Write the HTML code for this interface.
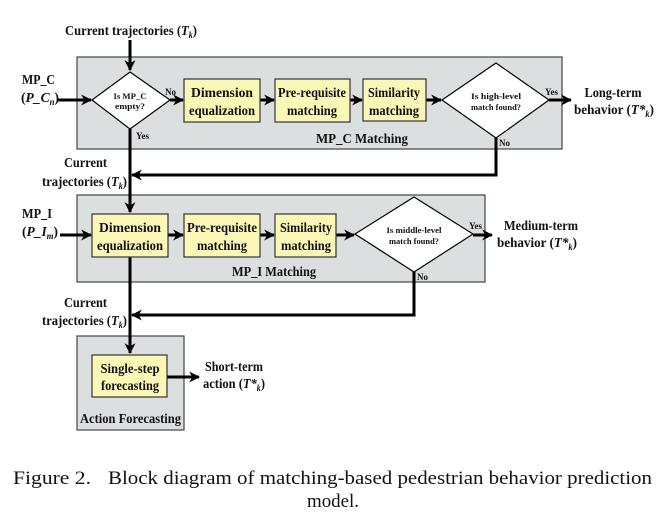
<!DOCTYPE html>
<html><head><meta charset="utf-8"><style>
html,body{margin:0;padding:0;background:#fff;}
svg{display:block;}
svg text{font-family:"Liberation Serif","Times New Roman",Times,serif;font-weight:bold;fill:#111;}
svg text.c{font-weight:normal;}
</style></head><body>
<svg width="667" height="523" viewBox="0 0 667 523" xmlns="http://www.w3.org/2000/svg" font-family="Liberation Serif, Times New Roman, serif">
<defs>
<marker id="b" viewBox="0 0 10 10" refX="9" refY="5" markerWidth="11" markerHeight="11" markerUnits="userSpaceOnUse" orient="auto">
<path d="M0,0 L10,5 L0,10 L3,5 z" fill="#000"/>
</marker>
</defs>
<rect x="77" y="57" width="485" height="92" fill="#dcdfe0" stroke="#444" stroke-width="1.2"/>
<rect x="77" y="195" width="408" height="87" fill="#dcdfe0" stroke="#444" stroke-width="1.2"/>
<rect x="77" y="336" width="107" height="94" fill="#dcdfe0" stroke="#444" stroke-width="1.2"/>

<g stroke="#000" stroke-width="3" fill="none">
<line x1="130" y1="40" x2="130" y2="70" marker-end="url(#b)"/>
<line x1="58" y1="100" x2="91" y2="100" marker-end="url(#b)"/>
<line x1="170" y1="100" x2="183" y2="100" marker-end="url(#b)"/>
<line x1="260" y1="100" x2="274" y2="100" marker-end="url(#b)"/>
<line x1="350" y1="100" x2="362" y2="100" marker-end="url(#b)"/>
<line x1="426" y1="100" x2="441" y2="100" marker-end="url(#b)"/>
<line x1="549" y1="100" x2="571" y2="100" marker-end="url(#b)"/>
<polyline points="496,138 496,175 132,175" marker-end="url(#b)"/>
<line x1="130" y1="129" x2="130" y2="212" marker-end="url(#b)"/>
<line x1="60" y1="235" x2="91" y2="235" marker-end="url(#b)"/>
<line x1="168" y1="235" x2="183" y2="235" marker-end="url(#b)"/>
<line x1="260" y1="235" x2="274" y2="235" marker-end="url(#b)"/>
<line x1="336" y1="235" x2="354" y2="235" marker-end="url(#b)"/>
<line x1="473" y1="235" x2="492" y2="235" marker-end="url(#b)"/>
<polyline points="414,272 414,315 132,315" marker-end="url(#b)"/>
<line x1="130" y1="257" x2="130" y2="353" marker-end="url(#b)"/>
<line x1="167" y1="377" x2="199" y2="377" marker-end="url(#b)"/>
</g>

<polygon points="130,72 170,100 130,129 92,100" fill="#fff" stroke="#000" stroke-width="1.2"/>
<polygon points="496,63 549,100 496,138 442,100" fill="#fff" stroke="#000" stroke-width="1.2"/>
<polygon points="414,197 473,234 414,272 355,234" fill="#fff" stroke="#000" stroke-width="1.2"/>

<g fill="#fbf7b6" stroke="#333" stroke-width="1.2">
<rect x="184" y="79" width="76" height="43"/>
<rect x="275" y="79" width="75" height="43"/>
<rect x="363" y="79" width="63" height="42"/>
<rect x="92" y="214" width="76" height="43"/>
<rect x="184" y="214" width="76" height="43"/>
<rect x="275" y="214" width="61" height="43"/>
<rect x="92" y="355" width="75" height="42"/>
</g>

<g font-size="14">
<text x="65" y="35" textLength="132" lengthAdjust="spacingAndGlyphs">Current trajectories (<tspan font-style="italic">T</tspan><tspan font-style="italic" font-size="9" dy="3">k</tspan><tspan dy="-3">)</tspan></text>
<text x="22" y="84" textLength="33" lengthAdjust="spacingAndGlyphs">MP_C</text>
<text x="21" y="102" font-style="italic" textLength="38" lengthAdjust="spacingAndGlyphs"><tspan font-style="normal">(</tspan>P_C<tspan font-size="9" dy="3">n</tspan><tspan dy="-3" font-style="normal">)</tspan></text>

<text x="222" y="97" text-anchor="middle" textLength="62" lengthAdjust="spacingAndGlyphs">Dimension</text>
<text x="222" y="115" text-anchor="middle" textLength="66" lengthAdjust="spacingAndGlyphs">equalization</text>
<text x="312" y="97" text-anchor="middle" textLength="68" lengthAdjust="spacingAndGlyphs">Pre-requisite</text>
<text x="312" y="115" text-anchor="middle" textLength="50" lengthAdjust="spacingAndGlyphs">matching</text>
<text x="394" y="97" text-anchor="middle" textLength="52" lengthAdjust="spacingAndGlyphs">Similarity</text>
<text x="394" y="115" text-anchor="middle" textLength="50" lengthAdjust="spacingAndGlyphs">matching</text>
<text x="613" y="97" text-anchor="middle" textLength="57" lengthAdjust="spacingAndGlyphs">Long-term</text>
<text x="574" y="114" textLength="80" lengthAdjust="spacingAndGlyphs">behavior (<tspan font-style="italic">T*</tspan><tspan font-style="italic" font-size="9" dy="3">k</tspan><tspan dy="-3">)</tspan></text>
<text x="316" y="143" textLength="92" lengthAdjust="spacingAndGlyphs">MP_C Matching</text>

<text x="64" y="167" textLength="43" lengthAdjust="spacingAndGlyphs">Current</text>
<text x="42" y="186" textLength="85" lengthAdjust="spacingAndGlyphs">trajectories (<tspan font-style="italic">T</tspan><tspan font-style="italic" font-size="9" dy="3">k</tspan><tspan dy="-3">)</tspan></text>

<text x="22" y="218" textLength="30" lengthAdjust="spacingAndGlyphs">MP_I</text>
<text x="22" y="236" font-style="italic" textLength="36" lengthAdjust="spacingAndGlyphs"><tspan font-style="normal">(</tspan>P_I<tspan font-size="9" dy="3">m</tspan><tspan dy="-3" font-style="normal">)</tspan></text>

<text x="130" y="232" text-anchor="middle" textLength="62" lengthAdjust="spacingAndGlyphs">Dimension</text>
<text x="130" y="250" text-anchor="middle" textLength="66" lengthAdjust="spacingAndGlyphs">equalization</text>
<text x="222" y="232" text-anchor="middle" textLength="70" lengthAdjust="spacingAndGlyphs">Pre-requisite</text>
<text x="222" y="250" text-anchor="middle" textLength="50" lengthAdjust="spacingAndGlyphs">matching</text>
<text x="306" y="232" text-anchor="middle" textLength="52" lengthAdjust="spacingAndGlyphs">Similarity</text>
<text x="306" y="250" text-anchor="middle" textLength="50" lengthAdjust="spacingAndGlyphs">matching</text>
<text x="541" y="230" text-anchor="middle" textLength="74" lengthAdjust="spacingAndGlyphs">Medium-term</text>
<text x="497" y="247" textLength="80" lengthAdjust="spacingAndGlyphs">behavior (<tspan font-style="italic">T*</tspan><tspan font-style="italic" font-size="9" dy="3">k</tspan><tspan dy="-3">)</tspan></text>
<text x="232" y="276" textLength="84" lengthAdjust="spacingAndGlyphs">MP_I Matching</text>

<text x="64" y="307" textLength="43" lengthAdjust="spacingAndGlyphs">Current</text>
<text x="42" y="325" textLength="85" lengthAdjust="spacingAndGlyphs">trajectories (<tspan font-style="italic">T</tspan><tspan font-style="italic" font-size="9" dy="3">k</tspan><tspan dy="-3">)</tspan></text>

<text x="130" y="373" text-anchor="middle" textLength="59" lengthAdjust="spacingAndGlyphs">Single-step</text>
<text x="130" y="390" text-anchor="middle" textLength="58" lengthAdjust="spacingAndGlyphs">forecasting</text>
<text x="205" y="371" textLength="58" lengthAdjust="spacingAndGlyphs">Short-term</text>
<text x="203" y="388" textLength="62" lengthAdjust="spacingAndGlyphs">action (<tspan font-style="italic">T*</tspan><tspan font-style="italic" font-size="9" dy="3">k</tspan><tspan dy="-3">)</tspan></text>
<text x="80" y="423" textLength="101" lengthAdjust="spacingAndGlyphs">Action Forecasting</text>
</g>

<g font-size="8">
<text x="130" y="99" text-anchor="middle" textLength="33" lengthAdjust="spacingAndGlyphs">Is MP_C</text>
<text x="130" y="109" text-anchor="middle" textLength="30" lengthAdjust="spacingAndGlyphs">empty?</text>
<text x="165" y="95" font-size="9">No</text>
<text x="136" y="139" font-size="9">Yes</text>
<text x="496" y="99" text-anchor="middle" textLength="50" lengthAdjust="spacingAndGlyphs">Is high-level</text>
<text x="496" y="110" text-anchor="middle" textLength="50" lengthAdjust="spacingAndGlyphs">match found?</text>
<text x="545" y="95" font-size="9">Yes</text>
<text x="499" y="146" font-size="9">No</text>
<text x="414" y="233" text-anchor="middle" textLength="55" lengthAdjust="spacingAndGlyphs">Is middle-level</text>
<text x="414" y="244" text-anchor="middle" textLength="50" lengthAdjust="spacingAndGlyphs">match found?</text>
<text x="469" y="229" font-size="9">Yes</text>
<text x="417" y="280" font-size="9">No</text>
</g>

<text class="c" x="13" y="484" font-size="19" textLength="78" lengthAdjust="spacingAndGlyphs">Figure 2.</text>
<text class="c" x="108" y="484" font-size="19" textLength="544" lengthAdjust="spacingAndGlyphs">Block diagram of matching-based pedestrian behavior prediction</text>
<text class="c" x="333" y="507" font-size="19" text-anchor="middle" textLength="52" lengthAdjust="spacingAndGlyphs">model.</text>
</svg>
</body></html>
